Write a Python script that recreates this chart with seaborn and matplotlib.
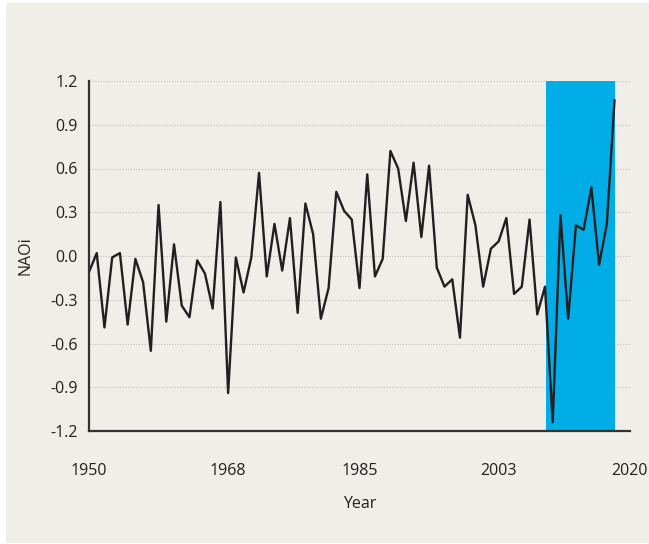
import numpy as np
import pandas as pd
import seaborn as sns
import matplotlib.pyplot as plt
from matplotlib.patches import Rectangle

# yearly NAO index values
years = list(range(1950, 2019))
naoi = [-0.11, 0.02, -0.49, -0.01, 0.02, -0.47, -0.02, -0.18, -0.65, 0.35,
        -0.45, 0.08, -0.34, -0.42, -0.03, -0.12, -0.36, 0.37, -0.94, -0.01,
        -0.25, -0.01, 0.57, -0.14, 0.22, -0.10, 0.26, -0.39, 0.36, 0.15,
        -0.43, -0.22, 0.44, 0.31, 0.25, -0.22, 0.56, -0.14, -0.02, 0.72,
        0.60, 0.24, 0.64, 0.13, 0.62, -0.08, -0.21, -0.16, -0.56, 0.42,
        0.21, -0.21, 0.05, 0.10, 0.26, -0.26, -0.21, 0.25, -0.40, -0.21,
        -1.14, 0.28, -0.43, 0.21, 0.18, 0.47, -0.06, 0.22, 1.07]

highlight = (2009.1, 2018.0)
y_ticks = [-1.2, -0.9, -0.6, -0.3, 0.0, 0.3, 0.6, 0.9, 1.2]
x_ticks = [1950, 1968, 1985, 2003, 2020]

bg = "#efeee9"
ink = "#231f20"

sns.set_style("ticks")
plt.rcParams['font.family'] = ['Open Sans', 'DejaVu Sans']

df = pd.DataFrame({"Year": years, "NAOi": naoi})

fig = plt.figure(figsize=(6.49, 5.44), dpi=100, facecolor="white")
fig.patches.append(Rectangle((6 / 649, 1 / 544), 1 - 6 / 649, 1 - 4 / 544,
                             transform=fig.transFigure, facecolor=bg,
                             edgecolor="none", zorder=-10))
ax = fig.add_axes([89 / 649, 1 - 431 / 544, (630 - 89) / 649, (431 - 81) / 544])
ax.set_facecolor(bg)

ax.axvspan(highlight[0], highlight[1], ymin=0, ymax=1, color="#00ade6", lw=0, zorder=1)
sns.lineplot(data=df, x="Year", y="NAOi", ax=ax, color=ink, lw=1.7, zorder=3)

ax.set_xlim(1950, 2020)
ax.set_ylim(-1.2, 1.2)
ax.set_xticks(x_ticks)
ax.set_yticks(y_ticks)
ax.set_yticklabels([f"{v:.1f}" for v in y_ticks])
ax.tick_params(length=0, labelsize=11.5, colors=ink)
ax.tick_params(axis="y", pad=8)
ax.tick_params(axis="x", pad=23)
ax.grid(axis="y", linestyle=(0, (1, 1.2)), color="#c9c7bd", lw=0.9, zorder=0)
ax.set_axisbelow(True)

sns.despine(ax=ax)
for s in ["left", "bottom"]:
    ax.spines[s].set_color("#333333")
    ax.spines[s].set_linewidth(1.6)
    ax.spines[s].set_zorder(4)

ax.set_xlabel("Year", fontsize=11.5, color=ink, labelpad=12)
ax.set_ylabel("NAOi", fontsize=11.5, color=ink, labelpad=12)

fig.savefig("out.png", dpi=100, facecolor=fig.get_facecolor())
